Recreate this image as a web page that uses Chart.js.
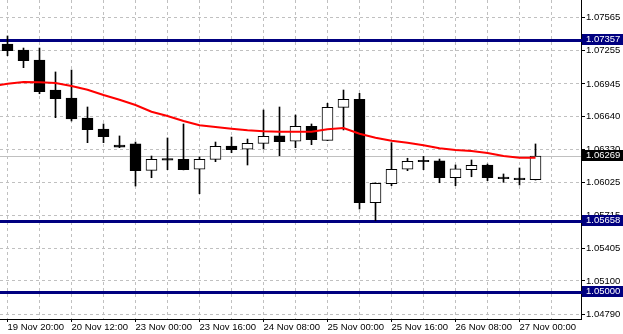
<!DOCTYPE html>
<html><head><meta charset="utf-8">
<script src="https://cdn.jsdelivr.net/npm/chart.js@4/dist/chart.umd.min.js"></script>
<style>html,body{margin:0;padding:0;background:#fff;overflow:hidden}</style>
</head><body>
<canvas id="c" width="623" height="334" style="display:block;width:623px;height:334px"></canvas>
<script>
// ---- data (EURUSD-style H4 candles) ----
const candleIndex = [0,1,2,3,4,5,6,7,8,9,10,11,12,13,14,15,16,17,18,19,20,21,22,23,24,25,26,27,28,29,30,31,32,33];
const opens  = [1.07319,1.07263,1.07169,1.06888,1.06813,1.06626,1.06523,1.06373,1.06383,1.06136,1.06245,1.06239,1.06146,1.06239,1.06364,1.06333,1.06389,1.06458,1.06408,1.06548,1.06417,1.06726,1.06801,1.05833,1.06011,1.06146,1.06230,1.06224,1.06067,1.06142,1.06186,1.06074,1.06064,1.06048];
const highs  = [1.07394,1.07281,1.07281,1.07057,1.07075,1.06729,1.06570,1.06458,1.06401,1.06270,1.06439,1.06570,1.06261,1.06401,1.06448,1.06429,1.06701,1.06729,1.06654,1.06570,1.06764,1.06888,1.06857,1.06020,1.06395,1.06249,1.06267,1.06242,1.06186,1.06233,1.06195,1.06102,1.06158,1.06383];
const lows   = [1.07209,1.07097,1.06853,1.06629,1.06598,1.06395,1.06395,1.06348,1.05989,1.06067,1.06142,1.06140,1.05917,1.06217,1.06301,1.06186,1.06336,1.06273,1.06348,1.06376,1.06414,1.06514,1.05774,1.05665,1.05992,1.06133,1.06142,1.06020,1.05992,1.06076,1.06039,1.06024,1.05999,1.06045];
const closes = [1.07256,1.07162,1.06872,1.06807,1.06617,1.06516,1.06451,1.06354,1.06133,1.06239,1.06232,1.06142,1.06239,1.06361,1.06329,1.06389,1.06455,1.06404,1.06548,1.06423,1.06726,1.06801,1.05833,1.06015,1.06146,1.06221,1.06217,1.06067,1.06149,1.06183,1.06067,1.06058,1.06048,1.06269];
// moving average (red), candle -1 .. 33
const maIndex  = [-1,0,1,2,3,4,5,6,7,8,9,10,11,12,13,14,15,16,17,18,19,20,21,22,23,24,25,26,27,28,29,30,31,32,33];
const maValues = [1.06921,1.06947,1.06963,1.06960,1.06954,1.06926,1.06891,1.06841,1.06797,1.06748,1.06685,1.06645,1.06598,1.06558,1.06542,1.06526,1.06511,1.06501,1.06498,1.06498,1.06498,1.06520,1.06532,1.06479,1.06442,1.06414,1.06395,1.06371,1.06342,1.06327,1.06317,1.06299,1.06270,1.06254,1.06254];
// axis ticks
const xLabelIdx = [0,4,8,12,16,20,24,28,32];
const xLabels = ["19 Nov 20:00","20 Nov 12:00","23 Nov 00:00","23 Nov 16:00","24 Nov 08:00","25 Nov 00:00","25 Nov 16:00","26 Nov 08:00","27 Nov 00:00"];
const xGridIdx = [0,2,4,6,8,10,12,14,16,18,20,22,24,26,28,30,32,34];
const yTickValues = [1.07565,1.07255,1.06945,1.06640,1.06330,1.06025,1.05715,1.05405,1.05100,1.04790];
// horizontal levels
const levelValues = [1.07357,1.05658,1.05000];
const currentPrice = 1.06269;

// ---- view range ----
const yMax = 1.077307, yMin = 1.047442;
const xMin = -0.46875, xMax = 35.84375;

const FONT = {family: "'Liberation Sans', Arial, sans-serif", size: 9.5};

const wickData = candleIndex.map((i,k) => ({x: i, y: [lows[k], highs[k]]}));
const bodyData = candleIndex.map((i,k) => ({x: i, y: [opens[k], closes[k]]}));
const bodyFill = candleIndex.map((i,k) => closes[k] > opens[k] ? '#ffffff' : '#000000');
const maData = maIndex.map((i,k) => ({x: i, y: maValues[k]}));

const levelPlugin = {
  id: 'levels',
  beforeDatasetsDraw(chart) {
    const {ctx, chartArea: a} = chart, y = chart.scales.y;
    ctx.save();
    const pg = Math.round(y.getPixelForValue(currentPrice)) + 0.5;
    ctx.strokeStyle = '#c0c0c0'; ctx.lineWidth = 1;
    ctx.beginPath(); ctx.moveTo(a.left, pg); ctx.lineTo(a.right, pg); ctx.stroke();
    ctx.fillStyle = '#000080';
    levelValues.forEach(v => {
      const p = Math.round(y.getPixelForValue(v));
      ctx.fillRect(a.left, p - 1, a.right - a.left + 2, 3);
    });
    ctx.restore();
  },
  afterDraw(chart) {
    const {ctx} = chart, y = chart.scales.y;
    ctx.save();
    ctx.font = FONT.size + 'px ' + FONT.family;
    ctx.textBaseline = 'middle'; ctx.textAlign = 'left';
    const box = (v, col) => {
      const p = Math.round(y.getPixelForValue(v));
      ctx.fillStyle = col;
      ctx.fillRect(y.left + 1, p - 6, chart.width - y.left - 1, 11);
      ctx.fillStyle = '#ffffff';
      ctx.fillText(v.toFixed(5), y.left + 5, p - 0.5);
    };
    levelValues.forEach(v => box(v, '#000080'));
    box(currentPrice, '#000000');
    ctx.restore();
  }
};

new Chart(document.getElementById('c'), {
  type: 'bar',
  data: {
    datasets: [
      {type: 'line', label: 'MA', data: maData, borderColor: '#ff0000', borderWidth: 2, pointRadius: 0, tension: 0, fill: false, order: 0},
      {label: 'body', data: bodyData, backgroundColor: bodyFill, borderColor: '#000000', borderWidth: 1, borderSkipped: false, barThickness: 11, grouped: false, order: 1},
      {label: 'wick', data: wickData, backgroundColor: '#000000', borderWidth: 0, barThickness: 1, grouped: false, order: 2}
    ]
  },
  options: {
    responsive: false, animation: false, devicePixelRatio: 1,
    layout: {padding: 0},
    plugins: {legend: {display: false}, tooltip: {enabled: false}},
    scales: {
      x: {
        type: 'linear', min: xMin, max: xMax, offset: false,
        afterBuildTicks: s => { s.ticks = xGridIdx.map(v => ({value: v})); },
        afterFit: s => { s.height = 15; s.paddingLeft = 0; s.paddingRight = 0; },
        ticks: {autoSkip: false, maxRotation: 0, minRotation: 0, align: 'start', padding: 0, color: '#000', font: FONT,
          callback: v => { const k = xLabelIdx.indexOf(v); return k >= 0 ? xLabels[k] : ''; }},
        grid: {offset: false, color: '#c0c0c0', lineWidth: 1, tickLength: 3,
          tickColor: c => (c.tick && xLabelIdx.includes(c.tick.value)) ? '#000' : 'rgba(0,0,0,0)'},
        border: {display: true, color: '#000', width: 1, dash: [3,3]}
      },
      y: {
        type: 'linear', position: 'right', min: yMin, max: yMax, beginAtZero: false,
        afterBuildTicks: s => { s.ticks = yTickValues.map(v => ({value: v})); },
        afterFit: s => { s.width = 42; s.paddingTop = 0; s.paddingBottom = 0; },
        ticks: {padding: 1, color: '#000', font: FONT, callback: v => Number(v).toFixed(5)},
        grid: {color: '#c0c0c0', lineWidth: 1, tickLength: 4, tickColor: '#000'},
        border: {display: true, color: '#000', width: 1, dash: [3,3]}
      }
    }
  },
  plugins: [levelPlugin]
});
</script>
</body></html>
